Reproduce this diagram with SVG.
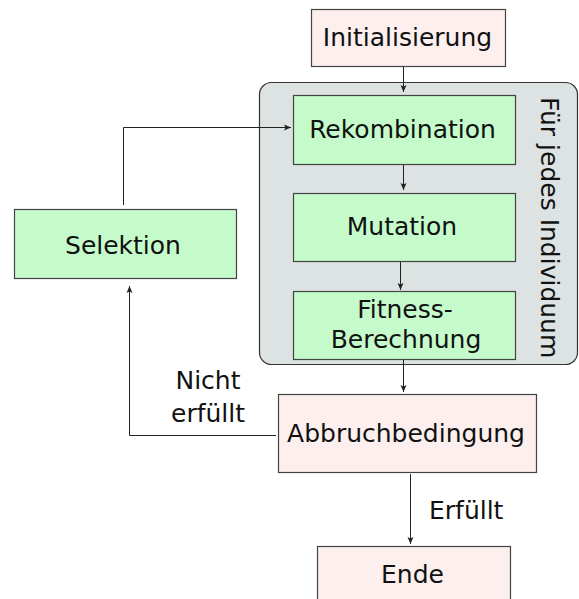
<svg xmlns="http://www.w3.org/2000/svg" width="579" height="599" viewBox="0 0 579 599">
  <style>
    .pink { fill: #fcefee; stroke: #444; stroke-width: 1.2; }
    .green { fill: #c5fbcb; stroke: #444; stroke-width: 1.2; }
    .group { fill: #dde2e2; stroke: #333; stroke-width: 1.2; }
    text { font-family: "DejaVu Sans", sans-serif; font-size: 25px; fill: #111; }
    .c { text-anchor: middle; }
    .edge { fill: none; stroke: #222; stroke-width: 1; marker-end: url(#arrow); }
  </style>
  <defs>
    <marker id="arrow" markerWidth="8" markerHeight="8" refX="7" refY="4" orient="auto" markerUnits="userSpaceOnUse">
      <path d="M0,1 L7,4 L0,7 L1.5,4 Z" fill="#222"/>
    </marker>
  </defs>

  <g id="loop">
    <rect class="group" x="259.5" y="82.5" width="318" height="282" rx="12"/>
    <text transform="translate(541,97) rotate(90)" x="0" y="0">Für jedes Individuum</text>
  </g>

  <g id="init">
    <rect class="pink" x="311.5" y="9.5" width="194" height="57"/>
    <text class="c" x="407.5" y="46">Initialisierung</text>
  </g>

  <g id="rekombination">
    <rect class="green" x="293.5" y="95.5" width="222" height="69"/>
    <text class="c" x="402.5" y="138">Rekombination</text>
  </g>

  <g id="mutation">
    <rect class="green" x="293.5" y="193.5" width="222" height="68"/>
    <text class="c" x="402" y="235">Mutation</text>
  </g>

  <g id="fitness">
    <rect class="green" x="293.5" y="291.5" width="222" height="68"/>
    <text class="c" x="405" y="318">Fitness-</text>
    <text class="c" x="406" y="348">Berechnung</text>
  </g>

  <g id="selektion">
    <rect class="green" x="14.5" y="209.5" width="222" height="69"/>
    <text class="c" x="123" y="254">Selektion</text>
  </g>

  <g id="abbruch">
    <rect class="pink" x="278.5" y="394.5" width="258" height="78"/>
    <text class="c" x="406" y="442">Abbruchbedingung</text>
  </g>

  <g id="ende">
    <rect class="pink" x="317.5" y="546.5" width="193" height="70"/>
    <text class="c" x="412.5" y="583">Ende</text>
  </g>

  <g id="connectors">
    <path class="edge" d="M403.5,67 V92"/>
    <path class="edge" d="M403.5,165 V190"/>
    <path class="edge" d="M400.5,262 V290"/>
    <path class="edge" d="M403.5,360 V392"/>
    <path class="edge" d="M410.5,474 V544"/>
    <path class="edge" d="M123.5,205 V127.5 H291"/>
    <path class="edge" d="M276,435.5 H129.5 V286"/>
    <text class="c" x="208" y="389">Nicht</text>
    <text class="c" x="208" y="422">erfüllt</text>
    <text x="429" y="519">Erfüllt</text>
  </g>
</svg>
